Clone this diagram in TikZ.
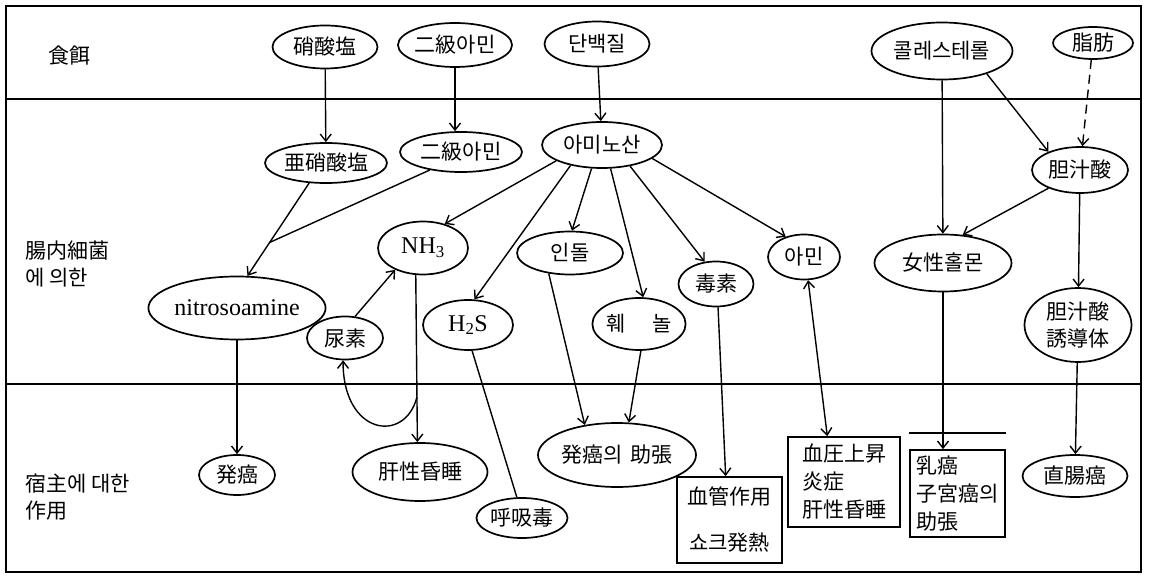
\documentclass[tikz,border=0pt]{standalone}
\usepackage{fontspec}
\newfontfamily\kr{Noto Sans CJK KR}
\newfontfamily\ser{Liberation Serif}
\usetikzlibrary{shapes.geometric,arrows.meta,calc}
\tikzset{
 >={Straight Barb[length=7pt,width=11pt]},
 ell/.style={ellipse,draw,line width=1.7pt,inner sep=0pt,align=center,font=\kr\fontsize{21}{27}\selectfont},
 lat/.style={ellipse,draw,line width=1.7pt,inner sep=0pt,font=\ser\fontsize{24}{28}\selectfont},
 bx/.style={rectangle,draw,line width=1.7pt,inner sep=0pt,align=left,font=\kr\fontsize{21}{28}\selectfont},
 lbl/.style={inner sep=0pt,align=left,font=\kr\fontsize{21}{27}\selectfont},
 conn/.style={line width=1.4pt,->},
 dconn/.style={line width=1.4pt,<->},
 plainline/.style={line width=1.4pt},
 frameline/.style={line width=2pt},
 divider/.style={line width=2.6pt}
}
\begin{document}
\begin{tikzpicture}[x=1pt,y=-1pt]
\useasboundingbox (0,0) rectangle (1149,577);
\fill[white] (0,0) rectangle (1149,577);
% frame
\draw[frameline] (6,6) rectangle (1141,572);
\draw[divider] (6,99) -- (1141,99);
\draw[divider] (6,384) -- (1141,384);
% row labels
\node[lbl,anchor=west] (row1) at (48,56) {食餌};
\node[lbl,anchor=west] (row2) at (25,263.5) {腸内細菌\\에 의한};
\node[lbl,anchor=west] (row3) at (25,497.5) {宿主에 대한\\作用};
% top row
\node[ell,minimum width=105pt,minimum height=43pt] (shosan) at (325,47) {硝酸塩};
\node[ell,minimum width=106pt,minimum height=44pt] (niamin1) at (455,45) {二級아민};
\node[ell,minimum width=105pt,minimum height=45pt] (tanpaku) at (597,44) {단백질};
\node[ell,minimum width=141pt,minimum height=57pt] (chol) at (942,51) {콜레스테롤};
\node[ell,minimum width=80pt,minimum height=32pt] (shibo) at (1093,43) {脂肪};
% middle row
\node[ell,minimum width=122pt,minimum height=40pt] (ashosan) at (326,163) {亜硝酸塩};
\node[ell,minimum width=122pt,minimum height=40pt] (niamin2) at (461,152) {二級아민};
\node[ell,minimum width=120pt,minimum height=46pt] (amino) at (602,145) {아미노산};
\node[ell,minimum width=96pt,minimum height=46pt] (tanju) at (1080,170) {胆汁酸};
\node[lat,minimum width=151pt,minimum height=63pt] (nitro) at (237,308) {nitrosoamine};
\node[ell,minimum width=76pt,minimum height=43pt] (nyoso) at (345,338) {尿素};
\node[lat,minimum width=90pt,minimum height=53pt] (nh3) at (423,248) {NH\textsubscript{3}};
\node[lat,minimum width=90pt,minimum height=50pt] (h2s) at (468,325) {H\textsubscript{2}S};
\node[ell,minimum width=106pt,minimum height=43pt] (indole) at (570,253) {인돌};
\node[ell,minimum width=92pt,minimum height=52pt] (phenol) at (639,324) {훼\hspace{1.3em}놀};
\node[ell,minimum width=75pt,minimum height=45pt] (toxin) at (716,284) {毒素};
\node[ell,minimum width=72pt,minimum height=45pt] (amine) at (804,257) {아민};
\node[ell,minimum width=137pt,minimum height=57pt] (hormone) at (943,263) {女性홀몬};
\node[ell,minimum width=107pt,minimum height=74pt] (deriv) at (1078,325) {胆汁酸\\誘導体};
% bottom row
\node[ell,minimum width=76pt,minimum height=40pt] (hatsugan) at (237,475) {発癌};
\node[ell,minimum width=135pt,minimum height=58pt] (kansei) at (420,472) {肝性昏睡};
\node[ell,minimum width=91pt,minimum height=40pt] (kokyu) at (522,518) {呼吸毒};
\node[ell,minimum width=151pt,minimum height=64pt] (josho) at (617,455) {発癌의\hspace{0.4em}助張};
\node[bx,align=center,minimum width=105pt,minimum height=86pt] (kekkan) at (729.5,520) {血管作用\\[18pt]쇼크発熱};
\node[bx,minimum width=112pt,minimum height=90pt] (ketsuatsu) at (844,482) {血圧上昇\\炎症\\肝性昏睡};
\node[bx,minimum width=95pt,minimum height=87pt] (nyugan) at (957.5,493.5) {乳癌\\子宮癌의\\助張};
\node[ell,minimum width=105pt,minimum height=42pt] (chokuchou) at (1075,476) {直腸癌};
% stray rule above nyugan box
\draw[line width=1.7pt] ([yshift=16pt]nyugan.north west) -- ([yshift=16pt]nyugan.north east);
% connectors
\draw[conn] (shosan) -- (ashosan);
\draw[conn] (niamin1.south) -- (niamin1.south |- niamin2.north);
\draw[conn] (tanpaku) -- (amino);
\draw[conn] (chol) -- (hormone);
\draw[conn] (chol.-27) -- (tanju.150);
\draw[conn,dash pattern=on 9pt off 6pt] (shibo) -- (tanju);
\draw[conn] (tanju.210) -- (hormone.55);
\draw[conn] (tanju) -- (deriv);
\draw[conn] (ashosan.230) -- (nitro.72);
\coordinate (junc) at ($(ashosan.230)!0.64!(nitro.72)$);
\draw[plainline] (niamin2.210) -- (junc);
\draw[conn] (amino.199) -- (nh3.48);
\draw[conn] (amino.213) -- (h2s.76);
\draw[conn] (amino.246) -- (indole.85);
\draw[conn] (amino.290) -- (phenol.81);
\draw[conn] (amino.323) -- (toxin.117);
\draw[conn] (amino.345) -- (amine.132);
\draw[conn] (indole.224) -- (josho.137);
\draw[conn] (phenol.274) -- (josho.70);
\draw[plainline] (h2s.279) -- (kokyu.104);
\draw[conn] (toxin.-85) -- (kekkan.95);
\draw[dconn] (amine.-80) -- (ketsuatsu.110);
\draw[conn] (hormone.south) -- (hormone.south |- nyugan.north);
\draw[conn] (deriv) -- (chokuchou);
\draw[conn] (nitro) -- (hatsugan);
\draw[conn] (nh3.255) -- (kansei.95);
\draw[conn] (nyoso.65) -- (nh3.218);
\coordinate (branch) at ($(nh3.255)!0.73!(kansei.95)$);
\draw[conn] (branch) .. controls +(-12,47) and +(0,75) .. (nyoso.-95);
\end{tikzpicture}
\end{document}
